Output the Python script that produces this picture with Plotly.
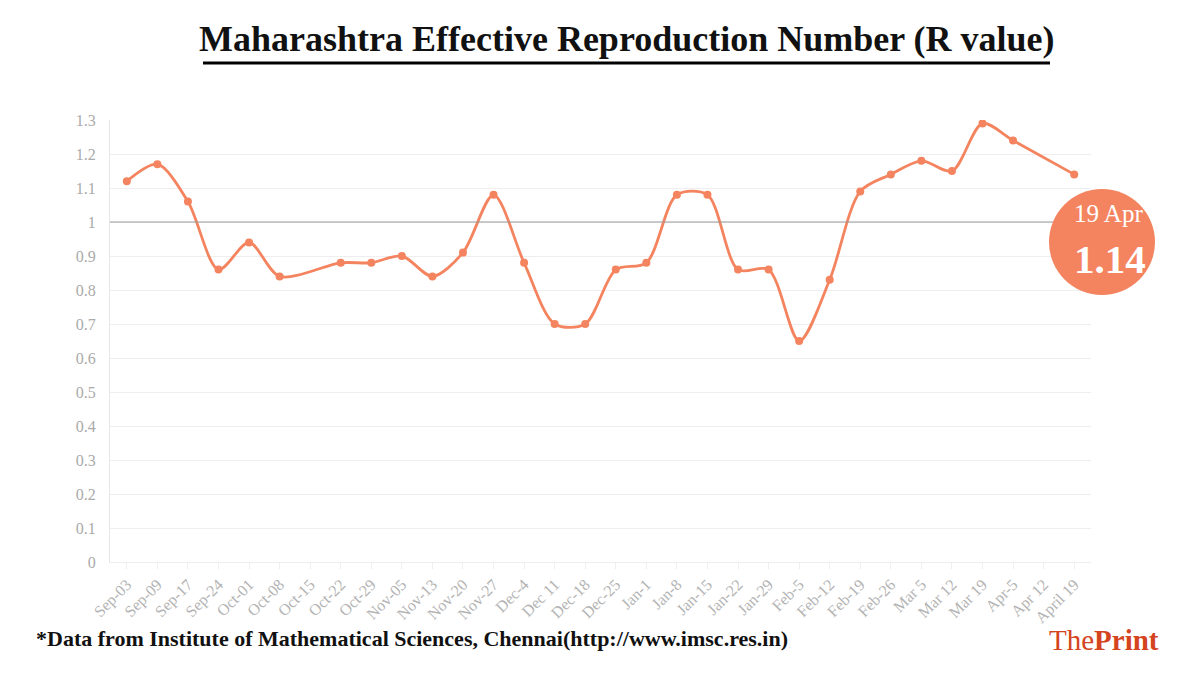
import plotly.graph_objects as go

categories = ["Sep-03", "Sep-09", "Sep-17", "Sep-24", "Oct-01", "Oct-08", "Oct-15",
              "Oct-22", "Oct-29", "Nov-05", "Nov-13", "Nov-20", "Nov-27", "Dec-4",
              "Dec 11", "Dec-18", "Dec-25", "Jan-1", "Jan-8", "Jan-15", "Jan-22",
              "Jan-29", "Feb-5", "Feb-12", "Feb-19", "Feb-26", "Mar 5", "Mar 12",
              "Mar 19", "Apr-5", "Apr 12", "April 19"]
r_values = [1.12, 1.17, 1.06, 0.86, 0.94, 0.84, None,
            0.88, 0.88, 0.90, 0.84, 0.91, 1.08, 0.88,
            0.70, 0.70, 0.86, 0.88, 1.08, 1.08, 0.86,
            0.86, 0.65, 0.83, 1.09, 1.14, 1.18, 1.15,
            1.29, 1.24, None, 1.14]
y_ticks = [0, 0.1, 0.2, 0.3, 0.4, 0.5, 0.6, 0.7, 0.8, 0.9, 1, 1.1, 1.2, 1.3]

title_text = "Maharashtra Effective Reproduction Number (R value)"
source_text = "*Data from Institute of Mathematical Sciences, Chennai(http://www.imsc.res.in)"
badge_date = "19 Apr"
badge_value = "1.14"

ORANGE = "#F4845F"
serif = "Liberation Serif, DejaVu Serif, serif"
tickserif = "Liberation Serif, serif"

# page offset (body margin) compensation
OFF = 8
W, H = 1200, 675
# desired page coordinates of plot area
PL, PR, PT, PB = 110, 1091, 120, 562
L = PL - OFF
T = PT - OFF
R = W - (PR - OFF)
B = H - (PB - OFF)
pw, ph = PR - PL, PB - PT

def px(x):
    return (x - PL) / pw

def py(y):
    return (PB - y) / ph

fig = go.Figure()
fig.add_trace(go.Scatter(
    x=categories, y=r_values, mode="lines+markers",
    line=dict(color=ORANGE, width=2.8, shape="spline", smoothing=0.85),
    marker=dict(color=ORANGE, size=8),
    connectgaps=True, hoverinfo="x+y", showlegend=False,
))

fig.update_layout(
    width=W, height=H,
    margin=dict(l=L, r=R, t=T, b=B),
    paper_bgcolor="white", plot_bgcolor="white",
    xaxis=dict(
        type="category", range=[-0.55, len(categories) - 0.45],
        tickangle=-45, tickfont=dict(family=tickserif, size=16, color="#b3b3b3"),
        showgrid=False, ticks="outside", ticklen=6, tickcolor="#eeeeee",
        showline=True, linecolor="#eeeeee", linewidth=1, zeroline=False,
    ),
    yaxis=dict(
        range=[0, 1.3], tickvals=y_ticks,
        tickfont=dict(family=tickserif, size=16, color="#aaaaaa"),
        showgrid=True, gridcolor="#eeeeee", gridwidth=1,
        showline=True, linecolor="#e6e6e6", linewidth=1, zeroline=False,
        ticks="", ticklabelstandoff=10,
    ),
    shapes=[
        dict(type="line", xref="paper", yref="y", x0=0, x1=1, y0=1, y1=1,
             line=dict(color="#999999", width=1)),
        dict(type="line", xref="paper", yref="paper", x0=px(203), x1=px(1050),
             y0=py(63), y1=py(63), line=dict(color="black", width=3)),
        dict(type="circle", xref="paper", yref="paper", xsizemode="pixel", ysizemode="pixel",
             xanchor=px(1102), yanchor=py(242), x0=-53, x1=53, y0=-53, y1=53,
             fillcolor=ORANGE, line=dict(width=0)),
    ],
    annotations=[
        dict(text="<b>" + title_text + "</b>", xref="paper", yref="paper",
             x=px(627), y=py(39), xanchor="center", yanchor="middle", showarrow=False,
             font=dict(family=serif, size=36, color="#111111")),
        dict(text="<b>" + source_text + "</b>", xref="paper", yref="paper",
             x=px(34), y=py(638), xanchor="left", yanchor="middle", showarrow=False,
             font=dict(family=serif, size=22, color="#111111")),
        dict(text="The<b>Print</b>", xref="paper", yref="paper",
             x=px(1161), y=py(640), xanchor="right", yanchor="middle", showarrow=False,
             font=dict(family=serif, size=29, color="#D4441E")),
        dict(text=badge_date, xref="paper", yref="paper",
             x=px(1108), y=py(213), xanchor="center", yanchor="middle", showarrow=False,
             font=dict(family=serif, size=25, color="white")),
        dict(text="<b>" + badge_value + "</b>", xref="paper", yref="paper",
             x=px(1110), y=py(259), xanchor="center", yanchor="middle", showarrow=False,
             font=dict(family=serif, size=41, color="white")),
    ],
)

fig.write_html("out.html")
